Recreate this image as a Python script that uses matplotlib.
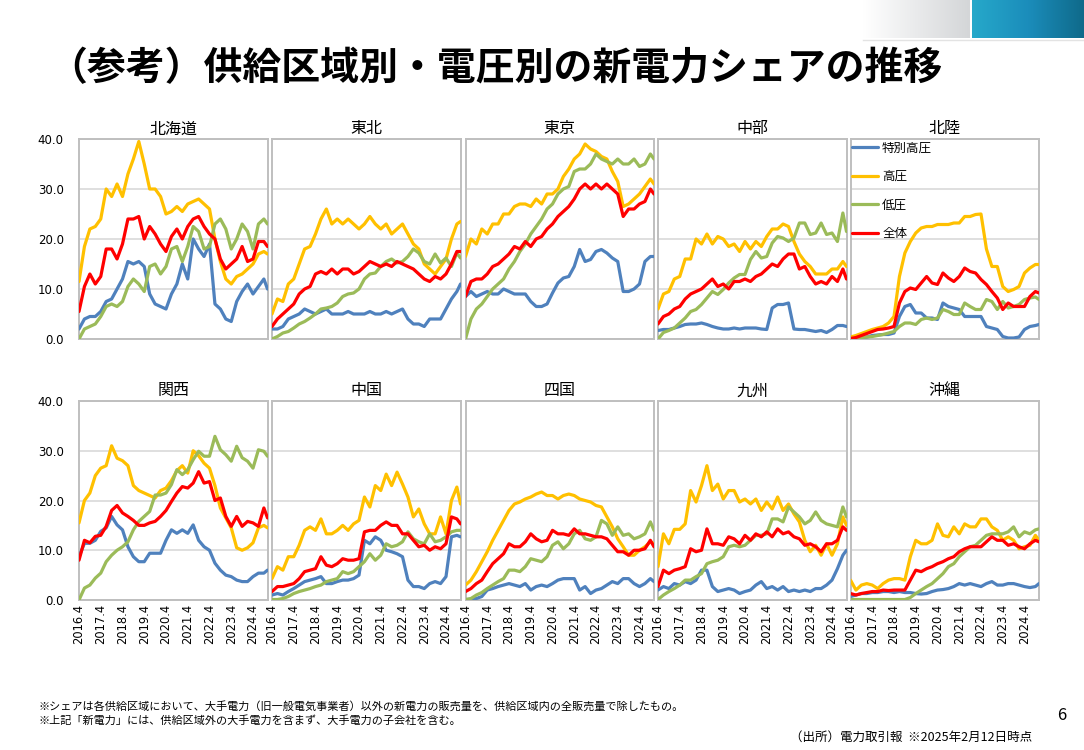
import numpy as np
import matplotlib
matplotlib.use("Agg")
import matplotlib.pyplot as plt
from matplotlib.colors import LinearSegmentedColormap

plt.rcParams['font.family'] = ['Noto Sans CJK JP', 'DejaVu Sans']

# ---------------- data ----------------
# month index from 2016.4 (0) ; values sampled quarterly, last = 2024.12
sample_months = list(range(0, 103, 3)) + [104]
year_ticks = list(range(0, 97, 12))
year_labels = ['2016.4', '2017.4', '2018.4', '2019.4', '2020.4',
               '2021.4', '2022.4', '2023.4', '2024.4']

regions = ['北海道', '東北', '東京', '中部', '北陸',
           '関西', '中国', '四国', '九州', '沖縄']
series_names = ['特別高圧', '高圧', '低圧', '全体']
series_colors = ['#4F81BD', '#FFC000', '#9BBB59', '#FF0000']

hokkaido_toku = [2, 4, 4.5, 4.5, 5.5, 7.5, 8, 10, 12, 15.5, 15, 15.5, 14.5, 9, 7, 6.5, 6, 9, 11, 15, 12, 20, 18, 16.5, 19, 7, 6, 4, 3.5, 7.5, 9.5, 11, 9, 10.5, 12, 10]
hokkaido_high = [11.5, 18.5, 22, 22.5, 24, 30, 28.5, 31, 28.5, 33, 36, 39.5, 35, 30, 30, 28.5, 25, 25.5, 26.5, 25.5, 27, 27.5, 28, 27, 26, 20, 15.5, 12, 11, 12.5, 13, 14, 15, 17, 17.5, 17]
hokkaido_low = [0, 2, 2.5, 3, 4.5, 6.5, 7, 6.5, 7.5, 10.5, 12, 11, 9.5, 14.5, 15, 13, 14.5, 18, 18.5, 15.5, 18.5, 22.5, 21.5, 18, 18.5, 23, 24, 22, 18, 20, 23, 21.5, 18, 23, 24, 23]
hokkaido_total = [5.5, 10.5, 13, 11, 12.5, 18, 18, 16, 19, 24, 24, 24.5, 20, 22.5, 21, 19, 17.5, 20.5, 22, 20, 22.5, 24, 24.5, 22.5, 21, 20, 16, 14, 15, 16, 18.5, 15.5, 16, 19.5, 19.5, 18.5]

tohoku_toku = [2, 2, 2.5, 4, 4.5, 5, 6, 5.5, 5, 5.5, 6, 5, 5, 5, 5.5, 5, 5, 5, 5.5, 5, 5, 5.5, 5, 5.5, 6, 4, 3, 3, 2.5, 4, 4, 4, 6, 8, 9.5, 11]
tohoku_high = [5, 8, 7.5, 11, 12, 15, 18, 18.5, 21, 24, 26, 23, 24, 23, 24, 23, 22, 23, 24.5, 23, 22, 23, 21, 22, 23, 21, 19, 18, 15, 14, 13, 14.5, 16, 20, 23, 23.5]
tohoku_low = [0, 0.5, 1.2, 1.5, 2.2, 3, 3.5, 4.2, 5, 6, 6.2, 6.5, 7.2, 8.5, 9, 9.2, 10, 12, 13, 13.2, 14.5, 15.5, 16, 15.2, 15.5, 16.5, 18, 17.2, 15.5, 15, 17, 15.2, 16.2, 14.5, 17.2, 16.2]
tohoku_total = [2.5, 4, 5, 6, 7, 9, 10, 10.5, 13, 13.5, 13, 14, 13, 14, 14, 13, 13.5, 14.5, 15.5, 15, 14.5, 15, 14.5, 15.5, 15, 14.5, 14, 13, 12, 11.5, 12.5, 12, 13, 15, 17.5, 17.5]

tokyo_toku = [8.5, 9.5, 8.5, 9, 9.5, 9, 9, 10, 9.5, 9, 9, 9, 7.5, 6.5, 6.5, 7, 9.2, 11.2, 12.2, 12.5, 14.5, 17.9, 15.5, 15.9, 17.5, 17.9, 17.2, 16.2, 15.5, 9.5, 9.5, 10, 11, 15.5, 16.5, 16.5]
tokyo_high = [16.5, 20, 19, 22, 21, 23, 23, 25, 25, 26.5, 27, 27, 26.5, 28, 27, 29, 29, 30, 32.5, 34, 36, 37, 39, 38, 37.5, 36.5, 36, 33.5, 31.5, 26.5, 27, 28, 29, 30.5, 32, 31]
tokyo_low = [0, 4, 6, 7, 8.5, 10, 11, 12, 14, 15.5, 17.5, 19, 21, 22.5, 24, 26, 27, 29, 30, 30.5, 33.5, 34, 34, 35, 37, 36, 35.5, 35, 36, 35, 35, 36, 34.5, 35, 37, 36]
tokyo_total = [8.5, 11.5, 12, 12, 13, 14.5, 15, 16, 17, 18.5, 18, 19.5, 18.5, 20, 20.5, 22, 23, 24.5, 25.5, 26.5, 28, 30, 31, 30, 31, 30, 31, 30, 29, 24.5, 26, 26, 27, 27.5, 30, 29]

chubu_toku = [1.7, 1.9, 1.9, 2.2, 2.5, 2.9, 3, 3, 3.2, 2.9, 2.5, 2.2, 2, 2, 2.2, 2, 2.2, 2.2, 2.2, 2, 1.9, 6.2, 6.9, 6.9, 7.2, 2, 1.9, 1.9, 1.7, 1.5, 1.7, 1.3, 1.9, 2.7, 2.7, 2.5]
chubu_high = [6, 9, 9.5, 12, 12.5, 16, 16, 20, 19, 21, 19, 20.5, 20, 18.5, 19, 17.5, 19.5, 18, 19.5, 18.5, 20.5, 22, 22, 23, 22.5, 19.5, 17, 15.5, 14.5, 13, 13, 13, 14, 14, 15.5, 14.5]
chubu_low = [0, 1.3, 1.7, 2.2, 3.2, 4.2, 5.5, 5.9, 6.9, 8.2, 9.5, 8.9, 9.9, 11.2, 12.2, 12.9, 12.9, 15.9, 17.5, 16.2, 16.5, 19.2, 20.5, 20.2, 19.5, 20.2, 23.2, 23.2, 20.9, 21.2, 23.2, 20.9, 21.2, 19.5, 25.2, 21.5]
chubu_total = [3, 4.5, 5, 6, 6.5, 8, 9, 9.5, 10, 11, 12, 10.5, 11, 10, 11.5, 11.5, 12, 11.5, 12.5, 13, 14, 15, 14.5, 16, 17, 17, 14, 14.5, 12.5, 11, 11.5, 11, 12.5, 11.5, 14, 12]

hokuriku_toku = [0.1, 0.1, 0.3, 0.4, 0.7, 0.8, 0.9, 0.9, 1.2, 4.5, 6.5, 6.9, 5.2, 5.2, 4.2, 4.2, 3.9, 7.2, 6.5, 6.2, 5.9, 4.5, 4.5, 4.5, 4.5, 2.5, 2.2, 1.9, 0.5, 0.2, 0.2, 0.4, 1.9, 2.5, 2.7, 2.9]
hokuriku_high = [0.4, 0.7, 1.1, 1.5, 1.9, 2.2, 2.5, 3.2, 4.5, 12.5, 17.2, 19.5, 21.2, 22.2, 22.5, 22.5, 22.9, 22.9, 22.9, 23.2, 23.2, 24.5, 24.5, 24.9, 25, 18, 14.5, 14.5, 10.5, 9.5, 9.9, 10.5, 13.2, 14.2, 14.9, 14.9]
hokuriku_low = [0, 0.1, 0.3, 0.4, 0.5, 0.7, 0.9, 1.2, 1.5, 2.5, 3.2, 3.2, 2.9, 3.9, 4.2, 3.9, 4.2, 5.9, 5.5, 4.9, 4.9, 7.2, 6.5, 5.9, 5.9, 7.9, 7.5, 5.9, 7.5, 6.2, 6.5, 6.9, 7.9, 8.2, 8.4, 7.9]
hokuriku_total = [0.1, 0.3, 0.7, 1.1, 1.5, 1.9, 2, 2.2, 2.5, 7.2, 9.5, 10.2, 9.9, 11.2, 12.5, 11.2, 10.9, 13.2, 12.2, 11.5, 12.5, 14.2, 13.5, 13.2, 11.9, 10.9, 9.5, 8.2, 5.9, 7.2, 6.5, 6.5, 6.5, 8.5, 9.5, 9.2]

kansai_toku = [8.7, 11.4, 11.4, 12, 13.8, 14.5, 16.8, 15.1, 14.1, 10.7, 8.7, 7.7, 7.7, 9.4, 9.4, 9.4, 12, 14.1, 13.4, 14.1, 13.4, 15.1, 12, 10.7, 10, 7.4, 6, 5, 4.7, 4, 3.7, 3.7, 4.7, 5.4, 5.4, 6]
kansai_high = [15.5, 20, 21.5, 25, 26.5, 27, 31, 28.5, 28, 27, 23, 22, 21.5, 21, 20.5, 22, 22.5, 24, 26, 27, 25.5, 30, 29, 27.5, 26.5, 23, 18.5, 16.5, 14.5, 10.5, 10, 10.5, 11.5, 14.5, 15, 14.5]
kansai_low = [0, 2.4, 3, 4.4, 5.4, 7.7, 9, 10, 10.7, 11.7, 14.1, 15.8, 16.8, 17.8, 21.1, 21.1, 21.5, 23.2, 26.2, 25.2, 26.2, 28.2, 29.9, 28.9, 28.9, 32.9, 30.2, 29.2, 27.9, 30.9, 28.6, 27.9, 26.5, 30.2, 29.9, 28.9]
kansai_total = [8, 12, 11.5, 12.8, 13, 14.8, 18, 19, 17.5, 16.8, 16, 15, 15, 15.5, 15.8, 16.8, 18, 19.8, 21.5, 22.8, 22.5, 23.5, 25.8, 23.5, 23.8, 20, 20.5, 16.8, 14.8, 16.8, 14.8, 15.8, 15.5, 14.8, 18.5, 16.5]

chugoku_toku = [1, 1.3, 1, 1.7, 2.3, 3, 3.7, 4, 4.3, 4.7, 3.3, 3.3, 3.7, 4, 4, 4.3, 5, 12, 11.3, 12.7, 12, 10, 9.7, 9.3, 8.7, 4, 2.7, 2.7, 2.3, 3.3, 3.7, 3.3, 4.7, 12.7, 13, 12.7]
chugoku_high = [4.3, 6.7, 6, 8.7, 8.7, 11, 14, 14.7, 14, 16.3, 13.3, 13.3, 14, 15, 14, 15.3, 16, 20.7, 18.7, 23, 22, 25.3, 23, 25.7, 23.3, 20.7, 16.7, 18.3, 15.3, 13.3, 13.3, 16.7, 13.3, 20, 22.7, 19.3]
chugoku_low = [0.1, 0.1, 0.3, 0.7, 1.3, 1.7, 2, 2.3, 2.7, 3, 3.7, 4, 4.3, 5.7, 5.3, 5.7, 6.7, 7.7, 9.3, 8, 9, 11.3, 10.7, 11, 11.7, 13.7, 12.3, 11.7, 11.3, 13.3, 11.7, 12, 12.7, 13.7, 14, 14]
chugoku_total = [1.7, 2.7, 2.7, 3, 3.3, 4.3, 5.7, 6, 6.3, 8.7, 7, 6.7, 7.3, 8.3, 8, 8, 8.3, 13.7, 14, 14, 15, 15.7, 15, 15, 13.3, 13.3, 12, 10.7, 11, 10, 10.7, 10.3, 11.3, 16.7, 16.3, 15.3]

shikoku_toku = [0.1, 0.1, 0.3, 0.7, 2, 2.3, 2.7, 3, 3.3, 3, 2.7, 3.3, 2, 2.7, 3, 2.7, 3.3, 4, 4.3, 4.3, 4.3, 2, 2.7, 1.3, 2, 2.3, 3, 3.7, 3.3, 4.3, 4.3, 3.3, 2.7, 3.3, 4.3, 3.7]
shikoku_high = [3, 4, 5.7, 7.7, 9.7, 12, 14, 16, 18, 19.3, 19.7, 20.3, 20.7, 21.3, 21.7, 21, 21, 20.3, 21, 21.3, 21, 20.3, 20, 19.7, 19, 18.7, 16.7, 14.7, 12.3, 10.7, 9, 9, 10, 10.7, 11.7, 11.3]
shikoku_low = [0.1, 0.3, 1, 1.5, 2.3, 3, 3.7, 4.3, 6, 6, 5.7, 6.7, 8.3, 8, 7.7, 8.7, 11, 11.7, 10.3, 11.3, 13.3, 14, 12.3, 12, 12.7, 16, 15.3, 13, 14.7, 13, 13.3, 12.3, 12.7, 13.3, 15.7, 14]
shikoku_total = [1.7, 2.3, 3.3, 4, 5.7, 7.3, 8.3, 9.3, 11.3, 10.7, 10.7, 11.7, 13.3, 12.3, 11.7, 12, 14, 13.3, 13.3, 13, 14.3, 13.3, 13.3, 13, 12.7, 12.7, 12.3, 11, 9.7, 9.7, 9, 10, 10, 10.3, 12, 10.7]

kyushu_toku = [2, 2.7, 2.3, 3.3, 3, 3.7, 3.3, 4, 6, 6, 2.7, 1.7, 2, 2.3, 2, 1.3, 1.7, 2, 3, 3.7, 2.3, 2.7, 2, 2.7, 1.7, 2, 1.7, 2, 1.7, 2.3, 2.3, 3, 4, 6.3, 9, 10]
kyushu_high = [6.7, 13.3, 11.3, 14.2, 14.2, 15.3, 22, 19.7, 23, 27, 22, 23.3, 20.3, 22, 22, 19.7, 20.3, 19.3, 20.3, 18, 19.7, 18.3, 20.7, 18, 19.3, 17.3, 15.7, 12, 9.7, 11, 9, 11.3, 9, 11.3, 16.7, 15]
kyushu_low = [0.1, 1, 1.7, 2.3, 3, 4, 4, 4.7, 5.3, 7.3, 7.7, 8, 8.7, 10.7, 11, 10.7, 11, 12, 13, 13, 13.3, 16.3, 16.3, 15.7, 18.7, 17.7, 16.7, 15.3, 16, 17.7, 16, 15.3, 15, 14.7, 18.7, 16.7]
kyushu_total = [2.7, 6, 5.3, 6, 6.3, 6.7, 10.3, 9.7, 10, 14.3, 11.3, 11.3, 11, 12.7, 12.3, 11.3, 13, 12, 13.3, 12.7, 13.7, 12.7, 14.3, 13.3, 13.7, 12.7, 12.3, 11, 11.3, 10.7, 9.7, 11.3, 11.3, 12, 14.7, 14]

okinawa_toku = [0.7, 1, 1.3, 1.3, 1.5, 1.5, 1.7, 1.7, 1.5, 1.7, 1.5, 1.5, 1.3, 1.2, 1.3, 1.7, 2, 2.1, 2.3, 2.7, 3.3, 3, 3.3, 3, 2.7, 3.3, 3.7, 3, 3, 3.3, 3.3, 3, 2.7, 2.5, 2.7, 3.3]
okinawa_high = [4, 2, 3, 3.3, 3, 2.3, 3.3, 4, 4.3, 4.3, 4, 8.7, 12, 11.3, 11.3, 12, 15.3, 13, 12.7, 14.7, 13.3, 15.3, 14.7, 14.7, 16.3, 16.3, 14.7, 14, 12, 12.7, 12, 10.3, 10.7, 11, 13, 12]
okinawa_low = [0.1, 0.1, 0.1, 0.1, 0.1, 0.1, 0.1, 0.1, 0.1, 0.1, 0.1, 0.5, 1.3, 2, 2.7, 3.3, 4.3, 5.3, 6.7, 7.3, 8.7, 9.7, 10.7, 11, 12, 13, 13.3, 13.3, 13.3, 13.7, 14.7, 12.7, 13.7, 13.3, 14.1, 14.3]
okinawa_total = [1.3, 1, 1.3, 1.5, 1.7, 1.7, 2, 1.9, 2, 2, 2, 4, 6, 5.7, 6.3, 6.7, 7.3, 7.7, 8.3, 8.7, 9.7, 10.3, 10.7, 10.7, 10.7, 11.7, 12.7, 12, 12, 11, 11.3, 10.7, 10.3, 11.3, 12, 11.7]

region_series = {
    '北海道': [hokkaido_toku, hokkaido_high, hokkaido_low, hokkaido_total],
    '東北': [tohoku_toku, tohoku_high, tohoku_low, tohoku_total],
    '東京': [tokyo_toku, tokyo_high, tokyo_low, tokyo_total],
    '中部': [chubu_toku, chubu_high, chubu_low, chubu_total],
    '北陸': [hokuriku_toku, hokuriku_high, hokuriku_low, hokuriku_total],
    '関西': [kansai_toku, kansai_high, kansai_low, kansai_total],
    '中国': [chugoku_toku, chugoku_high, chugoku_low, chugoku_total],
    '四国': [shikoku_toku, shikoku_high, shikoku_low, shikoku_total],
    '九州': [kyushu_toku, kyushu_high, kyushu_low, kyushu_total],
    '沖縄': [okinawa_toku, okinawa_high, okinawa_low, okinawa_total],
}

title_text = '（参考）供給区域別・電圧別の新電力シェアの推移'
note1 = '※シェアは各供給区域において、大手電力（旧一般電気事業者）以外の新電力の販売量を、供給区域内の全販売量で除したもの。'
note2 = '※上記「新電力」には、供給区域外の大手電力を含まず、大手電力の子会社を含む。'
source_text = '（出所）電力取引報  ※2025年2月12日時点'

# ---------------- figure ----------------
W, H = 1084, 750
fig = plt.figure(figsize=(W / 100, H / 100), dpi=100)
fig.patch.set_facecolor('white')


def fx(px):
    return px / W


def fy(py):
    return 1 - py / H


# decorative header blocks
grad = np.linspace(0, 1, 256).reshape(1, -1)
ax_g = fig.add_axes([fx(863), fy(38), fx(970 - 863), 38 / H])
ax_g.imshow(grad, aspect='auto', cmap=LinearSegmentedColormap.from_list('g', ['#FFFFFF', '#D4D6D8']))
ax_g.axis('off')
ax_b = fig.add_axes([fx(972), fy(38), fx(1084 - 972), 38 / H])
ax_b.imshow(grad, aspect='auto', cmap=LinearSegmentedColormap.from_list('b', ['#26A9CA', '#1B8DBB', '#0F6A8A']))
ax_b.axis('off')
fig.add_artist(plt.Line2D([fx(863), 1], [fy(40), fy(40)], color='#E3E3E3', lw=1))

fig.text(fx(48), fy(69), title_text, fontsize=28, fontweight='bold',
         ha='left', va='center', color='#000000')

lefts_px = [79, 272, 465.5, 658, 850.5]
width_px = 188.5
rows_px = [(139, 339), (401, 600)]

axes = []
for idx, reg in enumerate(regions):
    r, c = divmod(idx, 5)
    top, bot = rows_px[r]
    ax = fig.add_axes([fx(lefts_px[c]), fy(bot), fx(width_px), (bot - top) / H])
    for s, (vals, col) in enumerate(zip(region_series[reg], series_colors)):
        ax.plot(sample_months, vals, color=col, lw=2.3, label=series_names[s],
                solid_joinstyle='round', solid_capstyle='round', zorder=3 + s)
    ax.set_xlim(0, 104)
    ax.set_ylim(0, 40)
    ax.set_yticks([0, 10, 20, 30, 40])
    ax.yaxis.grid(True, color='#D9D9D9', lw=1.2, zorder=0)
    ax.set_axisbelow(True)
    for sp in ax.spines.values():
        sp.set_color('#BFBFBF')
        sp.set_linewidth(1.4)
    ax.tick_params(length=0)
    if c == 0:
        ax.set_yticklabels([f'{v:.1f}' for v in [0, 10, 20, 30, 40]],
                           fontsize=8.5, family=['DejaVu Sans'])
        ax.tick_params(axis='y', pad=11)
    else:
        ax.set_yticklabels([])
    ax.set_xticks(year_ticks)
    if r == 1:
        ax.set_xticklabels(year_labels, rotation=90, fontsize=8.3,
                           family=['DejaVu Sans'], va='top')
        ax.tick_params(axis='x', pad=3)
    else:
        ax.set_xticklabels([])
    ax.set_title(reg, fontsize=11.5, pad=4)
    axes.append(ax)

leg = axes[4].legend(loc='upper left', bbox_to_anchor=(-0.005, 1.0), frameon=False,
                     fontsize=9, handlelength=2.1, handletextpad=0.3,
                     labelspacing=1.25, borderaxespad=0.0, borderpad=0.2)

fig.text(fx(38), fy(706), note1, fontsize=8, ha='left', va='center')
fig.text(fx(38), fy(720), note2, fontsize=8, ha='left', va='center')
fig.text(fx(1062), fy(716), '6', fontsize=12, ha='center', va='center')
fig.text(fx(1032), fy(737), source_text, fontsize=9, ha='right', va='center')

fig.savefig('out.png', dpi=100)
